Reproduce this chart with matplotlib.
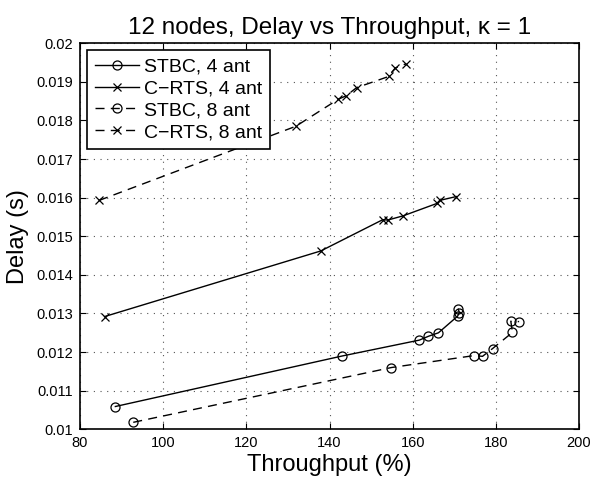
import matplotlib
matplotlib.use("Agg")
import matplotlib.pyplot as plt

# valores
stbc4_x = [88.5, 143.1, 161.6, 163.8, 166.2, 170.8, 171.2, 171.0]
stbc4_y = [0.01059, 0.0119, 0.01231, 0.01241, 0.0125, 0.01293, 0.01302, 0.01311]

crts4_x = [85.9, 137.9, 152.8, 154.0, 157.7, 165.8, 166.5, 170.5]
crts4_y = [0.01292, 0.01462, 0.01543, 0.01542, 0.01553, 0.01585, 0.01593, 0.01603]

stbc8_x = [92.8, 154.9, 174.8, 176.8, 179.2, 184.0, 183.6, 185.6]
stbc8_y = [0.01018, 0.0116, 0.01191, 0.01189, 0.01209, 0.01251, 0.0128, 0.01279]

crts8_x = [84.6, 131.9, 142.1, 144.0, 146.5, 154.2, 155.8, 158.4]
crts8_y = [0.01593, 0.01785, 0.01855, 0.01864, 0.01885, 0.01914, 0.01936, 0.01947]

x_ticks = [80, 100, 120, 140, 160, 180, 200]
y_ticks = [0.01, 0.011, 0.012, 0.013, 0.014, 0.015, 0.016, 0.017, 0.018, 0.019, 0.02]
y_tick_labels = ["0.01", "0.011", "0.012", "0.013", "0.014", "0.015",
                 "0.016", "0.017", "0.018", "0.019", "0.02"]

plt.rcParams["font.family"] = ["Liberation Sans", "DejaVu Sans"]

fig = plt.figure(figsize=(5.91, 4.79), dpi=100)
ax = fig.add_axes([0.1354, 0.1038, 0.8443, 0.8058])

dash = (0, (6.5, 4.5))
ax.plot(stbc4_x, stbc4_y, color="black", lw=1, marker="o", ms=6.5,
        mfc="none", mew=0.9, label="STBC, 4 ant")
ax.plot(crts4_x, crts4_y, color="black", lw=1, marker="x", ms=5.5,
        mew=0.9, label="C\u2212RTS, 4 ant")
ax.plot(stbc8_x, stbc8_y, color="black", lw=1, ls=dash, marker="o", ms=6.5,
        mfc="none", mew=0.9, label="STBC, 8 ant")
ax.plot(crts8_x, crts8_y, color="black", lw=1, ls=dash, marker="x", ms=5.5,
        mew=0.9, label="C\u2212RTS, 8 ant")

ax.set_xlim(80, 200)
ax.set_ylim(0.01, 0.02)
ax.set_xticks(x_ticks)
ax.set_yticks(y_ticks)
ax.set_yticklabels(y_tick_labels)
ax.tick_params(direction="in", top=True, right=True, labelsize=10.5, length=4, pad=5)
ax.grid(True, color="#555555", ls=(0, (1, 5)), lw=0.8)
for s in ax.spines.values():
    s.set_linewidth(1.2)

ax.set_title("12 nodes, Delay vs Throughput, \u03ba = 1", fontsize=17.5, pad=7)
ax.set_xlabel("Throughput (%)", fontsize=17, labelpad=3)
ax.set_ylabel("Delay (s)", fontsize=17, labelpad=5)

leg = ax.legend(loc="upper left", fontsize=14, handlelength=2.3, fancybox=False,
                framealpha=1, edgecolor="black", borderpad=0.4, labelspacing=0.22,
                handletextpad=0.25, borderaxespad=0.35)
leg.get_frame().set_linewidth(1.2)

fig.savefig("out.png", dpi=100)
